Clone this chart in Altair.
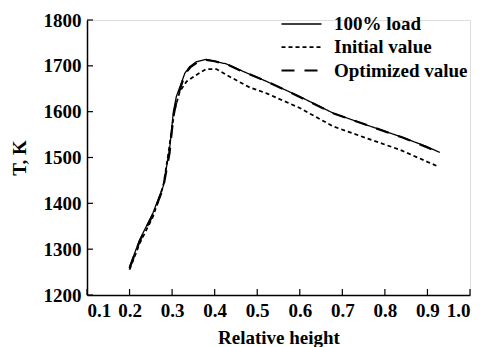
import altair as alt
import pandas as pd

# 100% load curve
load_x = [0.200, 0.224, 0.255, 0.279, 0.294, 0.303, 0.310, 0.330, 0.341, 0.357, 0.378, 0.396, 0.428, 0.459, 0.522, 0.600, 0.678, 0.757, 0.835, 0.898, 0.929]
load_y = [1262, 1321, 1379, 1437, 1517, 1600, 1633, 1684, 1698, 1709, 1714, 1711, 1704, 1691, 1666, 1633, 1597, 1571, 1546, 1524, 1511]
# initial value curve
init_x = [0.200, 0.224, 0.255, 0.279, 0.290, 0.298, 0.306, 0.318, 0.334, 0.357, 0.380, 0.404, 0.428, 0.482, 0.522, 0.600, 0.678, 0.757, 0.835, 0.921]
init_y = [1255, 1313, 1371, 1437, 1502, 1553, 1604, 1644, 1666, 1680, 1693, 1693, 1680, 1653, 1640, 1608, 1568, 1542, 1517, 1482]
# optimized value curve
opt_x = [0.200, 0.224, 0.255, 0.279, 0.294, 0.303, 0.312, 0.330, 0.343, 0.360, 0.380, 0.400, 0.430, 0.460, 0.520, 0.600, 0.680, 0.760, 0.840, 0.900, 0.929]
opt_y = [1258, 1318, 1375, 1433, 1510, 1590, 1630, 1682, 1697, 1708, 1713, 1710, 1703, 1690, 1667, 1632, 1596, 1570, 1544, 1522, 1510]

series_names = ["100% load", "Initial value", "Optimized value"]
x_ticks = [0.1, 0.2, 0.3, 0.4, 0.5, 0.6, 0.7, 0.8, 0.9, 1.0]
y_ticks = [1200, 1300, 1400, 1500, 1600, 1700, 1800]

rows = []
for name, xs, ys in zip(series_names, [load_x, init_x, opt_x], [load_y, init_y, opt_y]):
    for i, (a, b) in enumerate(zip(xs, ys)):
        rows.append({"series": name, "h": a, "T": b, "order": i})
df = pd.DataFrame(rows)

FONT = "Liberation Serif"
W, H = 383, 275

xscale = alt.Scale(domain=[0.1, 1.0], nice=False, zero=False)
yscale = alt.Scale(domain=[1200, 1800], nice=False, zero=False)

lines = alt.Chart(df).mark_line(color="black", strokeCap="butt").encode(
    x=alt.X("h:Q", scale=xscale,
            axis=alt.Axis(values=x_ticks, format=".1f", title="Relative height",
                          tickSize=0, labelPadding=6, domainWidth=1.5)),
    y=alt.Y("T:Q", scale=yscale,
            axis=alt.Axis(values=y_ticks, format="d", title="T, K",
                          tickSize=0, labelPadding=6, domainWidth=1.5)),
    detail="series:N",
    order="order:Q",
    strokeDash=alt.StrokeDash(
        "series:N",
        scale=alt.Scale(domain=series_names, range=[[1, 0], [4, 3], [13, 10]]),
        legend=alt.Legend(title=None, orient="none", legendX=203, legendY=-7,
                          symbolType="M-2,0H2", symbolSize=400,
                          symbolFillColor="transparent",
                          symbolStrokeColor="black", symbolStrokeWidth=2,
                          labelFont=FONT, labelFontSize=19, labelFontWeight="bold",
                          labelColor="black", rowPadding=2, labelOffset=21,
                          padding=0)),
    strokeWidth=alt.StrokeWidth(
        "series:N",
        scale=alt.Scale(domain=series_names, range=[1.3, 2.2, 2.6]),
        legend=None),
)

xt = pd.DataFrame({"v": x_ticks})
yt = pd.DataFrame({"v": y_ticks})
xtick_marks = alt.Chart(xt).mark_rule(color="black", strokeWidth=1.2).encode(
    x=alt.X("v:Q", scale=xscale), y=alt.value(H), y2=alt.value(H - 6))
ytick_marks = alt.Chart(yt).mark_rule(color="black", strokeWidth=1.2).encode(
    y=alt.Y("v:Q", scale=yscale), x=alt.value(0), x2=alt.value(6))

chart = alt.layer(lines, xtick_marks, ytick_marks).properties(
    width=W, height=H,
    autosize=alt.AutoSizeParams(type="none"),
    padding={"left": 79, "top": 12, "right": 5, "bottom": 70},
).configure_view(stroke=None).configure(font=FONT).configure_axis(
    labelFont=FONT, labelFontSize=19, labelFontWeight="bold", labelColor="black",
    titleFont=FONT, titleFontSize=19, titleFontWeight="bold", titleColor="black",
    domainColor="black", grid=False,
).configure_axisY(titlePadding=14).configure_axisX(titlePadding=8)

chart.save("out.html", embed_options={"renderer": "svg", "actions": False})
